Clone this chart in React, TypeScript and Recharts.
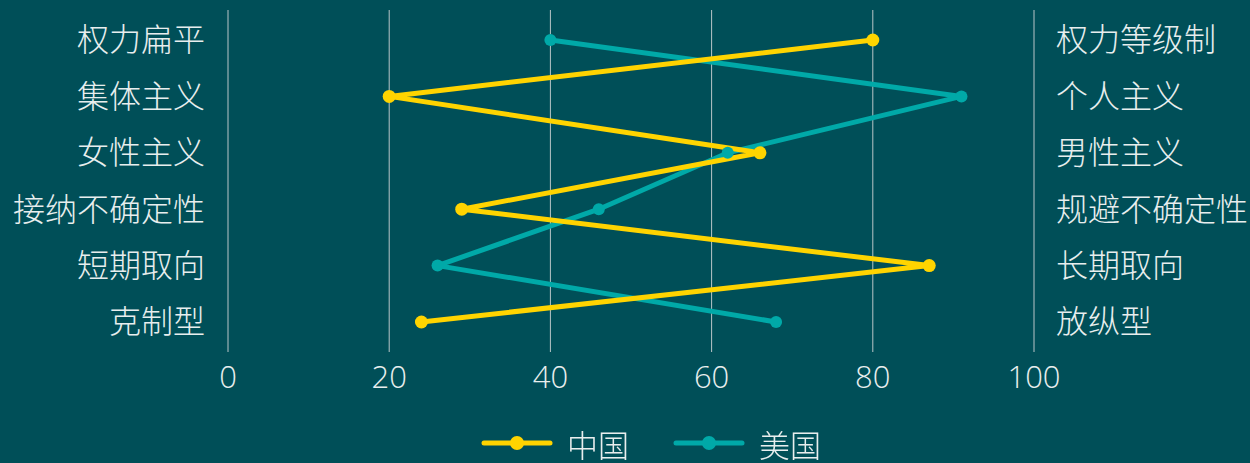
import {
  LineChart,
  Line,
  XAxis,
  YAxis,
  CartesianGrid,
  Legend,
} from "recharts";

const leftLabels = ["权力扁平", "集体主义", "女性主义", "接纳不确定性", "短期取向", "克制型"];
const rightLabels = ["权力等级制", "个人主义", "男性主义", "规避不确定性", "长期取向", "放纵型"];
const china = [80, 20, 66, 29, 87, 24];
const usa = [40, 91, 62, 46, 26, 68];
const xTicks = [0, 20, 40, 60, 80, 100];

const data = leftLabels.map((l, i) => ({
  left: l,
  right: rightLabels[i],
  中国: china[i],
  美国: usa[i],
}));

const BG = "#004f58";
const TEXT = "#e8eeee";
const GRID = "#b9c6c8";
const FONT = "'Noto Sans CJK SC', 'Open Sans', sans-serif";

const series = [
  { name: "中国", color: "#ffd400" },
  { name: "美国", color: "#00a9a8" },
];

function ChartLegend() {
  return (
    <div
      style={{
        display: "flex",
        justifyContent: "center",
        alignItems: "center",
        height: 40,
        gap: 44,
        paddingLeft: 52,
        fontFamily: FONT,
        fontWeight: 300,
        fontSize: 31,
        color: TEXT,
      }}
    >
      {series.map((s) => (
        <div key={s.name} style={{ display: "flex", alignItems: "center" }}>
          <svg width={72} height={16} style={{ marginRight: 14 }}>
            <line x1={3} y1={8} x2={69} y2={8} stroke={s.color} strokeWidth={5} strokeLinecap="round" />
            <circle cx={36} cy={8} r={7} fill={s.color} />
          </svg>
          <span>{s.name}</span>
        </div>
      ))}
    </div>
  );
}

export default function App() {
  const tickStyle = { fill: TEXT, fontSize: 32, fontFamily: FONT, fontWeight: 300 };
  const numStyle = { fill: TEXT, fontSize: 31, fontFamily: "'Open Sans', sans-serif", fontWeight: 300 };
  const pad = { top: 30, bottom: 30 };
  return (
    <div style={{ position: "fixed", left: 0, top: 0, width: 1250, height: 463, background: BG }}>
      <LineChart
        width={1250}
        height={463}
        data={data}
        layout="vertical"
        margin={{ top: 10, right: 0, bottom: 0, left: 0 }}
      >
        <CartesianGrid yAxisId="left" horizontal={false} stroke={GRID} strokeWidth={1} />
        <XAxis
          type="number"
          domain={[0, 100]}
          ticks={xTicks}
          axisLine={false}
          tickLine={false}
          tickSize={0}
          tickMargin={14}
          height={71}
          tick={numStyle}
        />
        <YAxis
          yAxisId="left"
          type="category"
          dataKey="left"
          width={228}
          padding={pad}
          axisLine={false}
          tickLine={false}
          tickSize={0}
          tickMargin={23}
          tick={tickStyle}
        />
        <YAxis
          yAxisId="right"
          orientation="right"
          type="category"
          dataKey="right"
          width={216}
          padding={pad}
          axisLine={false}
          tickLine={false}
          tickSize={0}
          tickMargin={22}
          tick={{ ...tickStyle, textAnchor: "start" }}
        />
        <Legend verticalAlign="bottom" content={() => <ChartLegend />} />
        <Line
          yAxisId="left"
          dataKey="美国"
          stroke="#00a9a8"
          strokeWidth={5}
          dot={{ r: 6, fill: "#00a9a8", stroke: "none" }}
          isAnimationActive={false}
        />
        <Line
          yAxisId="left"
          dataKey="中国"
          stroke="#ffd400"
          strokeWidth={5}
          dot={{ r: 6.5, fill: "#ffd400", stroke: "none" }}
          isAnimationActive={false}
        />
      </LineChart>
    </div>
  );
}
